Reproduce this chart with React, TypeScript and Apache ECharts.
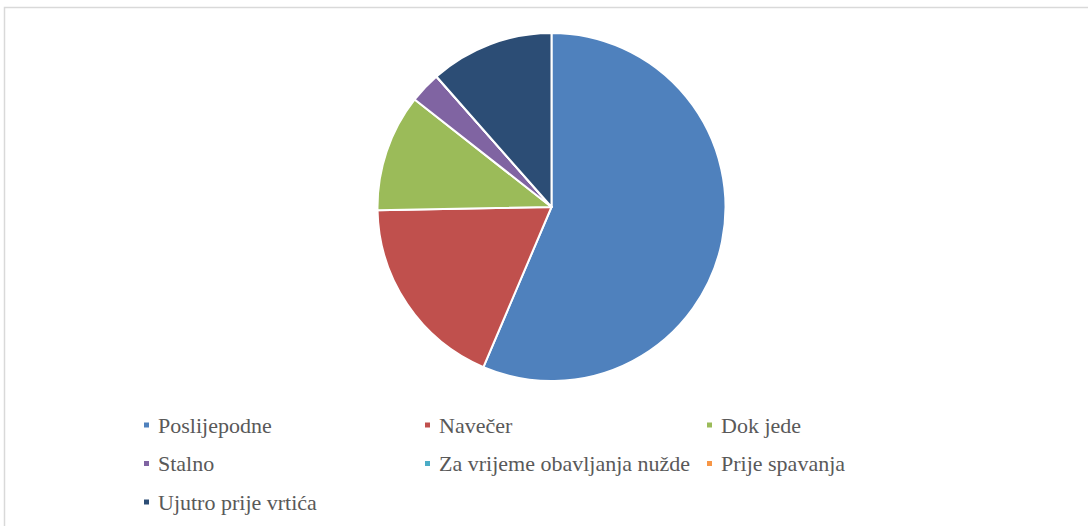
import React, { useEffect, useRef } from "react";
import * as echarts from "echarts";

const categories = [
  "Poslijepodne",
  "Navečer",
  "Dok jede",
  "Stalno",
  "Za vrijeme obavljanja nužde",
  "Prije spavanja",
  "Ujutro prije vrtića",
];
const values = [56.4, 18.3, 10.9, 2.9, 0, 0, 11.5];
const colors = ["#4F81BD", "#C0504D", "#9BBB59", "#8064A2", "#4BACC6", "#F79646", "#2C4D75"];

const legendColumns = [
  ["Poslijepodne", "Stalno", "Ujutro prije vrtića"],
  ["Navečer", "Za vrijeme obavljanja nužde"],
  ["Dok jede", "Prije spavanja"],
];
const legendLefts = [142, 423, 705];

export default function App() {
  const ref = useRef<HTMLDivElement>(null);
  useEffect(() => {
    if (!ref.current) return;
    const chart = echarts.init(ref.current, undefined, { renderer: "svg" });
    chart.setOption({
      animation: false,
      color: colors,
      graphic: [
        {
          type: "rect",
          shape: { x: 4.5, y: 7.5, width: 1100, height: 600 },
          style: { fill: "none", stroke: "#D9D9D9", lineWidth: 1.5 },
          silent: true,
        },
      ],
      legend: legendColumns.map((col, i) => ({
        data: col,
        orient: "vertical",
        left: legendLefts[i],
        top: 414,
        padding: 0,
        itemWidth: 7,
        itemHeight: 7,
        itemGap: 16.5,
        icon: "rect",
        selectedMode: false,
        textStyle: {
          fontFamily: "'Liberation Serif', 'DejaVu Serif', serif",
          fontSize: 22,
          lineHeight: 22,
          color: "#595959",
          padding: [0, 0, 0, 3],
        },
      })),
      series: [
        {
          type: "pie",
          center: [551.5, 207],
          radius: 174,
          startAngle: 90,
          clockwise: true,
          silent: true,
          label: { show: false },
          labelLine: { show: false },
          itemStyle: { borderColor: "#FFFFFF", borderWidth: 2 },
          data: categories.map((name, i) => ({ name, value: values[i] })),
        },
      ],
    });
    return () => chart.dispose();
  }, []);
  return (
    <div
      ref={ref}
      style={{ position: "absolute", left: 0, top: 0, width: 1088, height: 526, background: "#fff" }}
    />
  );
}
